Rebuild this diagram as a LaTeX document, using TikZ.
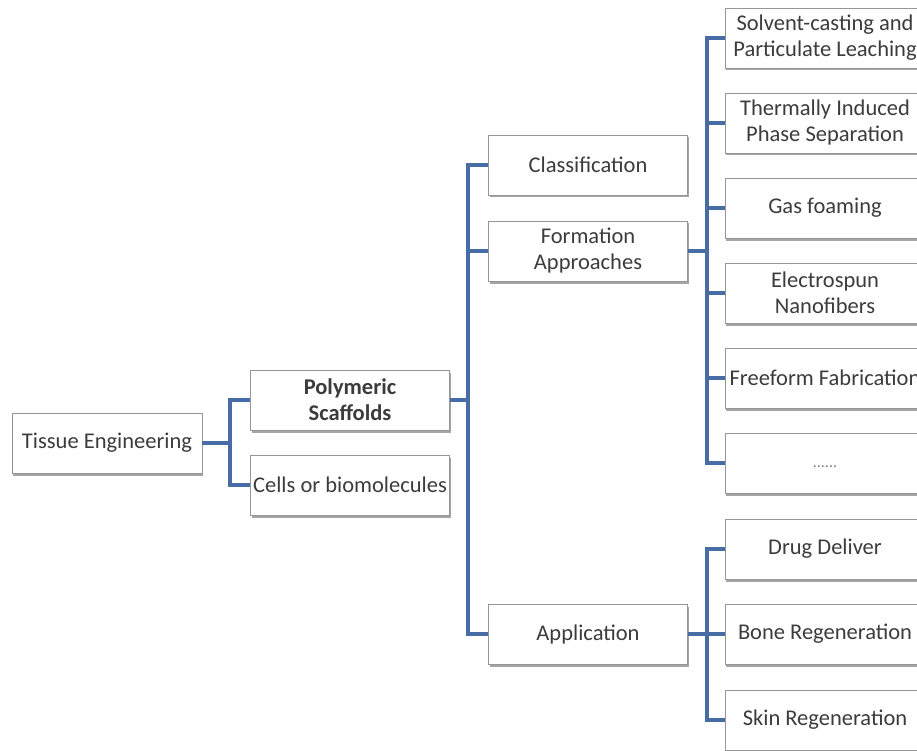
\documentclass[tikz,border=0pt]{standalone}
\usepackage{fontspec}
\setmainfont{Carlito}
\usepackage{tikz}
\usetikzlibrary{positioning,calc,shadows}
\definecolor{linkblue}{RGB}{72,108,166}
\definecolor{boxgray}{RGB}{150,150,150}
\definecolor{txtgray}{RGB}{60,60,60}
\tikzset{
    blk/.style={rectangle, draw=boxgray, fill=white, line width=0.8pt,
                minimum height=60pt, minimum width=#1, inner sep=0pt,
                align=center, text=txtgray,
                font=\fontsize{22.5}{26}\selectfont,
                drop shadow={shadow xshift=1pt, shadow yshift=-2.5pt,
                             opacity=0.5, fill=black!70}},
    blk/.default=199pt,
    link/.style={draw=linkblue, line width=4pt},
}
\begin{document}
\begin{tikzpicture}[x=1pt, y=-1pt]
    \useasboundingbox (0,0) rectangle (917,751);
    \clip (0,0) rectangle (917,751);

    % buses
    \coordinate (busA) at (230,0);
    \coordinate (busB) at (468,0);
    \coordinate (busC) at (707,0);

    % level 0 and 1
    \node[blk=190pt] (te)    at (107,443) {Tissue Engineering};
    \node[blk]       (ps)    at (350,400) {\bfseries Polymeric\\\bfseries Scaffolds};
    \node[blk]       (cells) at (350,485) {Cells or biomolecules};

    % level 2
    \node[blk] (cls) at (588,165) {Classification};
    \node[blk] (fa)  at (588,251) {Formation\\Approaches};
    \node[blk] (app) at (588,634) {Application};

    % level 3: formation approaches
    \node[blk=200pt] (scpl) at (825,38)  {Solvent-casting and\\Particulate Leaching};
    \node[blk=200pt] (tips) at (825,123) {Thermally Induced\\Phase Separation};
    \node[blk=200pt] (gas)  at (825,208) {Gas foaming};
    \node[blk=200pt] (es)   at (825,293) {Electrospun\\Nanofibers};
    \node[blk=200pt] (ff)   at (825,378) {Freeform Fabrication};
    \node[blk=200pt] (more) at (825,463) {};
    \node[font=\fontsize{16}{18}\selectfont, text=gray] (dots) at (825,467) {......};

    % level 3: application
    \node[blk=200pt] (drug) at (825,549) {Drug Deliver};
    \node[blk=200pt] (bone) at (825,634) {Bone Regeneration};
    \node[blk=200pt] (skin) at (825,720) {Skin Regeneration};

    % connectors
    \draw[link] (te.east) -- (te.east -| busA) |- (ps.west);
    \draw[link] (te.east -| busA) |- (cells.west);

    \draw[link] (ps.east) -- (ps.east -| busB);
    \draw[link] (cls.west) -| (busB |- app.west) -- (app.west);
    \draw[link] (busB |- fa.west) -- (fa.west);

    \draw[link] (fa.east) -- (fa.east -| busC);
    \draw[link] (scpl.west) -| (busC |- more.west) -- (more.west);
    \foreach \n in {tips,gas,es,ff}
        \draw[link] (busC |- \n.west) -- (\n.west);

    \draw[link] (app.east) -- (bone.west);
    \draw[link] (drug.west) -| (busC |- skin.west) -- (skin.west);
\end{tikzpicture}
\end{document}
